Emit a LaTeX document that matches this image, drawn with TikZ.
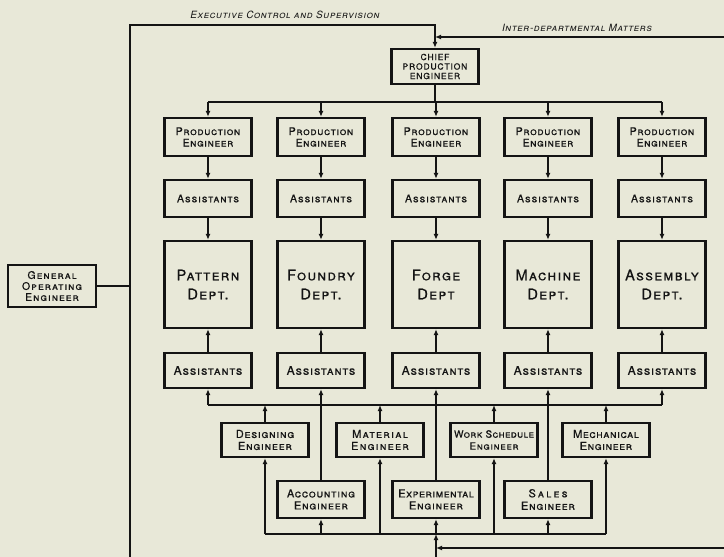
\documentclass[tikz,border=0pt]{standalone}
\usepackage{fontspec}
\setmainfont{TeX Gyre Heros}
\usetikzlibrary{arrows.meta}
\definecolor{paper}{RGB}{232,232,216}
\definecolor{ink}{RGB}{20,20,20}
\begin{document}
\begin{tikzpicture}[x=1pt,y=-1pt,
  fs/.style n args={3}{font=\fontsize{#1}{#2}\selectfont\addfontfeatures{LetterSpace=#3,FakeBold=0.6}\scshape},
  box/.style={draw=ink, line width=2.3pt, fill=paper, minimum width=87pt, align=center, inner sep=0pt, text=ink,
    fs={10.5}{11.5}{6}},
  dept/.style={box, minimum height=87pt, fs={14.5}{19}{9}},
  ln/.style={draw=ink, line width=1.7pt},
  arr/.style={ln, -{Latex[length=6pt,width=5pt]}},
  lab/.style={text=ink, inner sep=0pt, font=\fontsize{10}{10}\selectfont\addfontfeatures{LetterSpace=6}\itshape\scshape}]
\fill[paper] (0,0) rectangle (724,557);
\useasboundingbox (0,0) rectangle (724,557);

% chief
\node[box, minimum height=35pt, font=\fontsize{8.5}{9.5}\selectfont\addfontfeatures{LetterSpace=10,FakeBold=0.6}] (chief) at (435,66.5) {CHIEF\\PRODUCTION\\ENGINEER};

% columns
\foreach \i/\x/\d in {1/208/{Pattern\\Dept.},2/321/{Foundry\\Dept.},3/436/{Forge\\Dept},4/548/{Machine\\Dept.},5/662/{Assembly\\Dept.}}{
  \node[box, minimum height=38pt] (pe\i) at (\x,137) {Production\\Engineer};
  \node[box, minimum height=37pt, fs={10.5}{11}{9}] (as\i) at (\x,198.5) {Assistants};
  \node[dept] (dp\i) at (\x,284.5) {\d};
  \node[box, minimum height=35pt, fs={12}{13}{7}] (la\i) at (\x,370.5) {Assistants};
}

% general operating engineer
\node[box, minimum width=88pt, minimum height=42pt, fs={10.5}{11}{10}] (gen) at (52,286) {General\\Operating\\Engineer};

% staff engineers
\node[box, minimum height=34pt, fs={11}{12}{7}] (des) at (265,440) {Designing\\Engineer};
\node[box, minimum height=34pt, fs={11}{12}{12}] (mat) at (380,440) {Material\\Engineer};
\node[box, minimum height=34pt, fs={10}{12}{4}] (ws) at (494,440) {Work Schedule\\{\addfontfeatures{LetterSpace=7}Engineer}};
\node[box, minimum height=34pt, fs={11}{12}{5}] (mech) at (606,440) {Mechanical\\Engineer};
\node[box, minimum height=37pt, fs={11}{12}{7}] (acc) at (321,499.5) {Accounting\\Engineer};
\node[box, minimum height=37pt, fs={11}{12}{4}] (exp) at (436,499.5) {Experimental\\{\addfontfeatures{LetterSpace=7}Engineer}};
\node[box, minimum height=37pt, fs={11}{12.5}{7}] (sales) at (548,499.5) {{\addfontfeatures{LetterSpace=20}Sales}\\Engineer};

% labels
\node[lab] (lexec) at (285,15) {Executive Control and Supervision};
\node[lab] (linter) at (577,28) {Inter-departmental Matters};

% free ends
\coordinate (tl) at (130,25);
\coordinate (bl) at (130,557);
\coordinate (irr) at (724,37);
\coordinate (br) at (724,548);
\coordinate (bb) at (436,557);
\coordinate (tbus) at (435,102);
\coordinate (ubus) at (435,405);
\coordinate (bbus) at (435,534);

% executive control line
\draw[arr] (bl) -- (tl) -| (chief.north);
\draw[arr] (irr) -- (chief.north |- irr);
\draw[ln] (gen.east) -- (gen.east -| tl);

% chief to production engineers
\draw[ln] (chief.south) -- (tbus);
\draw[ln] (pe1.north |- tbus) -- (pe5.north |- tbus);
\foreach \i in {1,...,5}{
  \draw[arr] (pe\i.north |- tbus) -- (pe\i.north);
  \draw[arr] (pe\i) -- (as\i);
  \draw[arr] (as\i) -- (dp\i);
  \draw[arr] (la\i) -- (dp\i);
}

% upper bus
\draw[ln] (la1.south |- ubus) -- (la5.south |- ubus);
\draw[arr] (la1.south |- ubus) -- (la1.south);
\draw[arr] (la5.south |- ubus) -- (la5.south);
\foreach \n in {des,mat,ws,mech}{
  \draw[arr] (\n.north) -- (\n.north |- ubus);
}
\draw[arr] (acc) -- (la2);
\draw[arr] (exp) -- (la3);
\draw[arr] (sales) -- (la4);

% bottom bus
\draw[ln] (des.south |- bbus) -- (mech.south |- bbus);
\foreach \n in {des,acc,mat,exp,ws,sales,mech}{
  \draw[arr] (\n.south |- bbus) -- (\n.south);
}
\draw[arr] (bb) -- (exp.south |- bbus);
\draw[arr] (br) -- (exp.south |- br);
\end{tikzpicture}
\end{document}
